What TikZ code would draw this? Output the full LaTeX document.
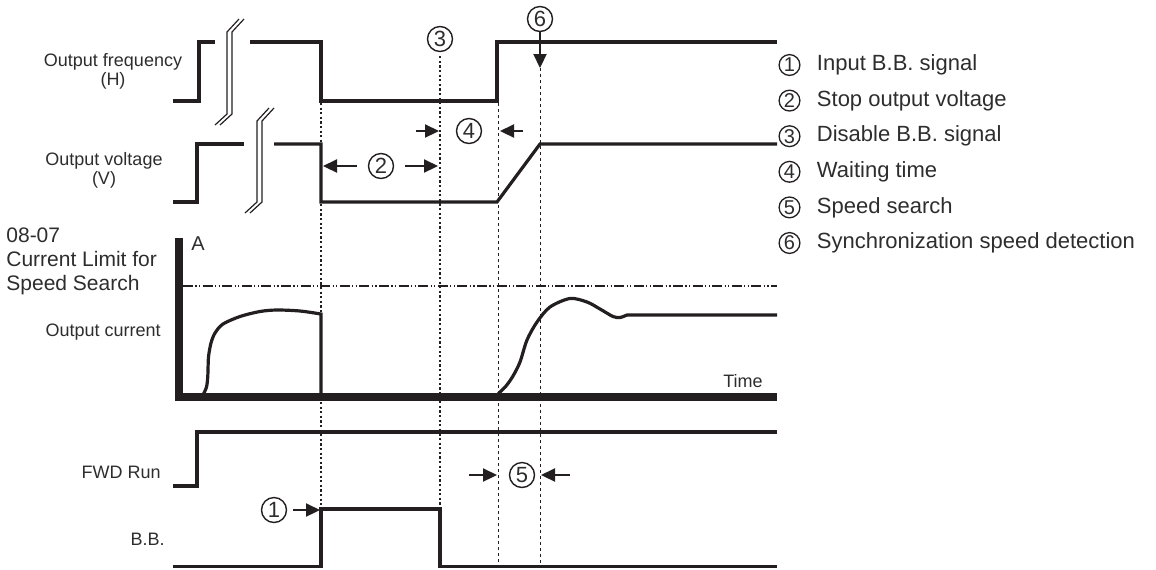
\documentclass[tikz,border=0pt]{standalone}
\usepackage{fontspec}
\setmainfont{Liberation Sans}
\usetikzlibrary{arrows.meta, positioning}
\definecolor{ink}{RGB}{35,31,32}
\definecolor{txt}{RGB}{45,45,45}
\tikzset{
  freqline/.style={line width=2pt, color=ink},
  sigline/.style={line width=1.6pt, color=ink},
  axisline/.style={line width=3.6pt, color=ink},
  markdot/.style={line width=1.2pt, color=ink, dash pattern=on 1.1pt off 1.2pt},
  markthin/.style={line width=0.5pt, color=ink, dash pattern=on 1.5pt off 1.5pt},
  limitline/.style={line width=0.55pt, color=ink,
    dash pattern=on 5pt off 1.2pt on 0.6pt off 1.2pt on 0.6pt off 1.2pt},
  breakmark/.style={line width=0.6pt, color=ink},
  numcirc/.style={circle, draw=ink, line width=0.7pt, minimum size=12.5pt,
    inner sep=0pt, font=\fontsize{11}{11}\selectfont, text=txt},
  legcirc/.style={circle, draw=ink, line width=0.65pt, minimum size=10.4pt,
    inner sep=0pt, font=\fontsize{10}{10}\selectfont, text=txt},
  legtext/.style={anchor=west, inner sep=0pt, font=\fontsize{11}{12}\selectfont, text=txt},
  sigtext/.style={inner sep=0pt, font=\fontsize{9}{9.5}\selectfont, text=txt, align=center},
  dimarrow/.style={-{Triangle[length=7pt, width=6.5pt]}, line width=1.1pt, color=ink}
}

\begin{document}
\begin{tikzpicture}[x=0.5pt, y=-0.5pt]
  \useasboundingbox (0,0) rectangle (1156,569);

  % Signal labels
  \node[sigtext] (freqlbl) at (113,71) {Output frequency\\(H)};
  \node[sigtext] (voltlbl) at (104,170) {Output voltage\\(V)};
  \node[anchor=west, align=left, inner sep=0pt, text=txt,
    font=\fontsize{10.5}{12}\selectfont] (limlbl) at (6,261) {08-07\\Current Limit for\\Speed Search};
  \node[sigtext, anchor=east] (curlbl) at (161,332) {Output current};
  \node[sigtext, anchor=east] (fwdlbl) at (161,472) {FWD Run};
  \node[sigtext, anchor=east] (bblbl) at (165,539) {B.B.};
  \node[sigtext, font=\fontsize{10}{10}\selectfont] (alabel) at (198,244) {A};
  \node[sigtext, anchor=east] (timelbl) at (763,381) {Time};

  % Output frequency
  \draw[freqline] (173,101) -- (199,101) -- (199,42) -- (215,42);
  \draw[freqline] (250,42) -- (321,42) -- (321,101) -- (497,101) -- (497,42) -- (777,42);
  \draw[breakmark] (215,125) -- (227,114) -- (227,32) -- (239,19);
  \draw[breakmark] (220,125) -- (232,114) -- (232,32) -- (244,19);

  % Output voltage
  \draw[sigline] (173,202) -- (197,202) -- (197,144) -- (244,144);
  \draw[sigline] (274,144) -- (321,144) -- (321,202) -- (497,202) -- (540,144) -- (777,144);
  \draw[breakmark] (245,213) -- (257,202) -- (257,121) -- (269,108);
  \draw[breakmark] (250,213) -- (262,202) -- (262,121) -- (274,108);

  % Output current
  \draw[limitline] (183,286) -- (777,286);
  \draw[sigline] plot[smooth] coordinates {(203,395) (206.5,387) (207.8,376) (208.5,357)
    (211,343) (215,333) (223,324) (240,316.5) (260,311.5) (277,310) (300,311) (321,314)}
    -- (321,397);
  \draw[sigline] plot[smooth] coordinates {(497,395) (506,386) (513,376) (520,362)
    (527,340) (537,322) (550,307) (570,298.5) (587,302) (600,309) (613,316.5) (620,317.5)
    (627,315)} -- (777,315);
  \draw[axisline] (179,238) -- (179,397) -- (777,397);

  % FWD Run and B.B.
  \draw[sigline] (173,486) -- (197,486) -- (197,432) -- (777,432);
  \draw[sigline] (173,566.5) -- (321,566.5) -- (321,509) -- (440,509) -- (440,566.5) -- (777,566.5);

  % Event markers
  \node[numcirc] (n1) at (274,510) {1};
  \node[numcirc] (n2) at (381,166) {2};
  \node[numcirc] (n3) at (440,39) {3};
  \node[numcirc] (n4) at (469,131) {4};
  \node[numcirc] (n5) at (522,475) {5};
  \node[numcirc] (n6) at (540,19) {6};

  \coordinate (t1) at (321,103);
  \coordinate (t1b) at (321,509);
  \coordinate (t3b) at (440,509);
  \coordinate (t4) at (498,103);
  \coordinate (t4b) at (498,563);
  \coordinate (t6) at (540,68);
  \coordinate (t6b) at (540,563);

  \draw[markdot] (t1) -- (t1b);
  \draw[markdot] ([yshift=-2pt]n3.south) -- (t3b);
  \draw[markthin] (t4) -- (t4b);
  \draw[markthin] (t6) -- (t6b);

  % Interval arrows
  \coordinate (b1) at (320,510);
  \coordinate (s2l) at (323,166);
  \coordinate (s2r) at (438,166);
  \coordinate (w4l) at (439,131);
  \coordinate (w4r) at (500,131);
  \coordinate (p5l) at (497,475);
  \coordinate (p5r) at (541,475);

  \draw[dimarrow] ([xshift=-13.5pt]b1) -- (b1);
  \draw[dimarrow] ([xshift=17pt]s2l) -- (s2l);
  \draw[dimarrow] ([xshift=-16.5pt]s2r) -- (s2r);
  \draw[dimarrow] ([xshift=-11.5pt]w4l) -- (w4l);
  \draw[dimarrow] ([xshift=11.5pt]w4r) -- (w4r);
  \draw[dimarrow] ([xshift=-14pt]p5l) -- (p5l);
  \draw[dimarrow] ([xshift=14.5pt]p5r) -- (p5r);
  \draw[dimarrow] (n6.south) -- (t6);

  % Legend
  \foreach \k/\txt in {1/Input B.B. signal, 2/Stop output voltage, 3/Disable B.B. signal,
    4/Waiting time, 5/Speed search, 6/Synchronization speed detection} {
    \node[legcirc] (l\k) at (789.5,{29.4+35.6*\k}) {\k};
    \node[legtext, right=8pt of l\k] (lt\k) {\txt};
  }
\end{tikzpicture}
\end{document}
